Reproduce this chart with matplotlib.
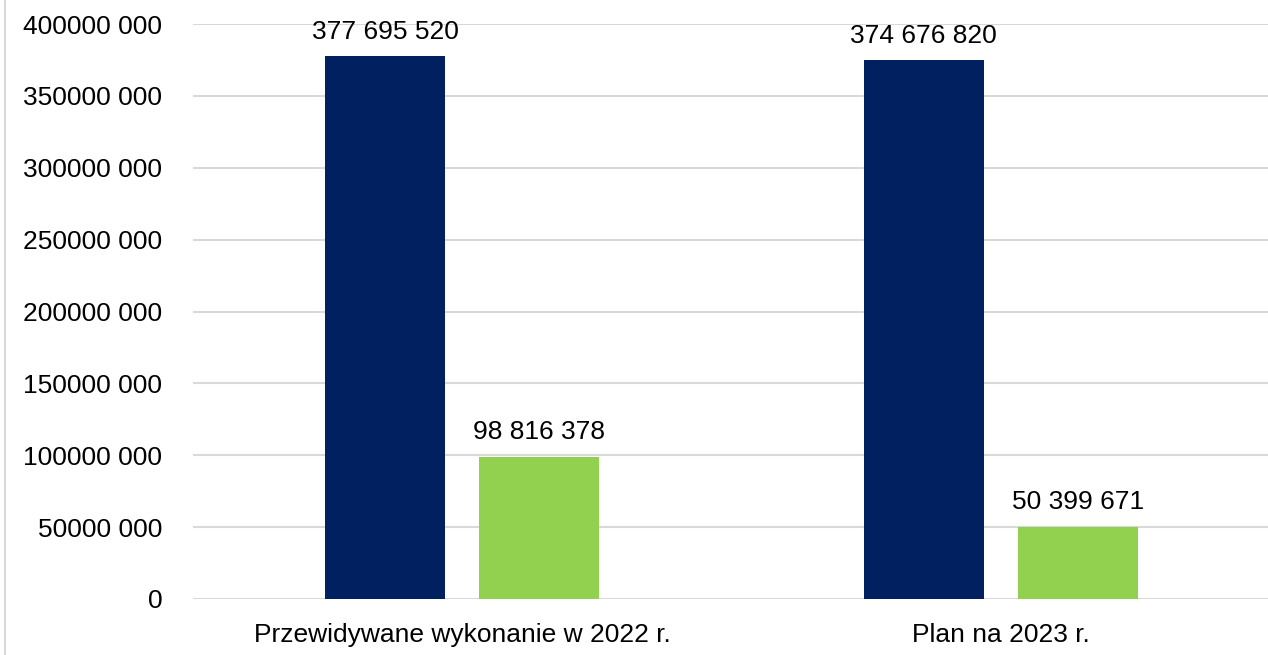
import matplotlib.pyplot as plt
from matplotlib.lines import Line2D
import numpy as np

categories = ["Przewidywane wykonanie w 2022 r.", "Plan na 2023 r."]
series_a = [377695520, 374676820]
series_b = [98816378, 50399671]
yticks = [0, 50000000, 100000000, 150000000, 200000000, 250000000,
          300000000, 350000000, 400000000]

plt.rcParams['font.family'] = ['Liberation Sans', 'DejaVu Sans']


def tick_fmt(v):
    v = int(v)
    if v == 0:
        return "0"
    return f"{v // 1000}{' '}{v % 1000:03d}"


def label_fmt(v):
    return f"{int(v):,}".replace(",", " ")


fig = plt.figure(figsize=(12.68, 6.55), dpi=100)
ax = fig.add_axes([193 / 1268, 1 - 599 / 655, 1077 / 1268, 575 / 655])

x = np.arange(len(categories))
w = 0.223
off = 0.143
bars_a = ax.bar(x - off, series_a, w, color="#00205f", zorder=3)
bars_b = ax.bar(x + off, series_b, w, color="#92d050", zorder=3)

for bars, vals in ((bars_a, series_a), (bars_b, series_b)):
    for b, v in zip(bars, vals):
        ax.annotate(label_fmt(v), (b.get_x() + b.get_width() / 2, v),
                    xytext=(0, 9), textcoords="offset points",
                    ha="center", va="bottom", fontsize=19, color="#000000")

ax.set_xlim(-0.5, 1.5)
ax.set_ylim(0, 400000000)
ax.set_yticks(yticks)
ax.set_yticklabels([tick_fmt(v) for v in yticks])
ax.set_xticks(x)
ax.set_xticklabels(categories)
ax.tick_params(axis="y", length=0, pad=22, labelsize=19)
ax.tick_params(axis="x", length=0, pad=17, labelsize=19)
ax.grid(axis="y", color="#d9d9d9", linewidth=1.5, zorder=0)
ax.set_axisbelow(True)
for s in ax.spines.values():
    s.set_visible(False)

fig.add_artist(Line2D([5 / 1268, 5 / 1268], [0, 1], transform=fig.transFigure,
                      color="#d9d9d9", linewidth=1.5))

fig.savefig("out.png", dpi=100)
